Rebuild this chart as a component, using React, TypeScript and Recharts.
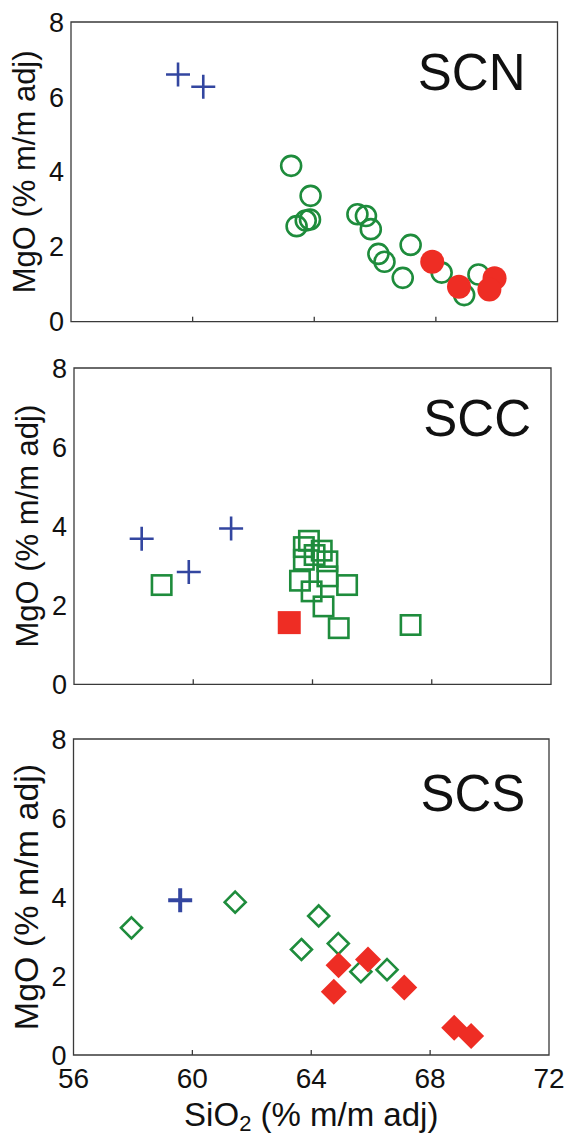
import React from 'react';
import { ScatterChart, Scatter, XAxis, YAxis, ReferenceArea } from 'recharts';

// Axis ticks shared by the three panels
const SI_TICKS = [56, 60, 64, 68, 72];
const MG_TICKS = [0, 2, 4, 6, 8];

// SCN panel: [SiO2, MgO]
const scnCross: [number, number][] = [[59.52, 6.6], [60.35, 6.27]];
const scnOpen: [number, number][] = [
  [63.24, 4.16], [63.88, 3.36], [63.42, 2.55], [63.72, 2.7], [63.86, 2.73],
  [65.42, 2.87], [65.7, 2.82], [65.86, 2.47], [66.11, 1.81], [66.31, 1.6],
  [66.91, 1.17], [67.17, 2.05], [68.19, 1.31], [68.93, 0.71], [69.4, 1.26],
];
const scnFilled: [number, number][] = [[67.88, 1.6], [68.76, 0.93], [69.93, 1.16], [69.76, 0.86]];

// SCC panel
const sccCross: [number, number][] = [[58.27, 3.68], [59.85, 2.84], [61.27, 3.94]];
const sccOpen: [number, number][] = [
  [58.94, 2.51], [63.71, 3.47], [63.88, 3.63], [64.31, 3.38], [64.5, 3.11],
  [63.71, 3.15], [64.07, 3.27], [63.58, 2.62], [64.5, 2.73], [63.97, 2.35],
  [65.16, 2.51], [64.37, 1.97], [64.88, 1.42], [67.29, 1.5],
];
const sccFilled: [number, number][] = [[63.22, 1.56]];

// SCS panel
const scsCross: [number, number][] = [[59.59, 3.92]];
const scsOpen: [number, number][] = [
  [57.95, 3.22], [61.44, 3.87], [64.25, 3.52], [63.67, 2.67], [64.91, 2.82],
  [65.67, 2.11], [66.55, 2.16],
];
const scsFilled: [number, number][] = [
  [64.92, 2.27], [65.91, 2.42], [64.76, 1.6], [67.13, 1.71], [68.81, 0.69], [69.38, 0.48],
];

const toPoints = (arr: [number, number][]) => arr.map(([si, mg]) => ({ si, mg }));

const BLUE = '#3346a0';
const GREEN = '#1e8c3c';
const RED = '#ee2d24';
const FRAME = '#3a3a3a';
const INK = '#111';
const FONT = '"Liberation Sans", Arial, Helvetica, sans-serif';

// ---- marker shapes ----
const plus = (half: number, sw: number) => (p: any) => (
  <path
    d={`M${p.cx - half},${p.cy}H${p.cx + half}M${p.cx},${p.cy - half}V${p.cy + half}`}
    stroke={BLUE}
    strokeWidth={sw}
    fill="none"
  />
);
const openCircle = (p: any) => (
  <circle cx={p.cx} cy={p.cy} r={10} fill="none" stroke={GREEN} strokeWidth={2.6} />
);
const filledCircle = (p: any) => <circle cx={p.cx} cy={p.cy} r={12} fill={RED} />;
const openSquare = (p: any) => (
  <rect x={p.cx - 9.7} y={p.cy - 9.7} width={19.4} height={19.4} fill="none" stroke={GREEN} strokeWidth={2.6} />
);
const filledSquare = (p: any) => (
  <rect x={p.cx - 11.5} y={p.cy - 11.5} width={23} height={23} fill={RED} />
);
const diamondPath = (cx: number, cy: number, h: number) =>
  `M${cx},${cy - h}L${cx + h},${cy}L${cx},${cy + h}L${cx - h},${cy}Z`;
const openDiamond = (p: any) => (
  <path d={diamondPath(p.cx, p.cy, 10.5)} fill="none" stroke={GREEN} strokeWidth={2.6} />
);
const filledDiamond = (p: any) => <path d={diamondPath(p.cx, p.cy, 13)} fill={RED} />;

// ---- axis pieces ----
const makeXTick = (showLabel: boolean) => (p: any) => {
  const inner = p.index > 0 && p.index < SI_TICKS.length - 1;
  return (
    <g>
      {inner && <line x1={p.x} x2={p.x} y1={p.y} y2={p.y - 5} stroke={FRAME} strokeWidth={1.3} />}
      {showLabel && (
        <text x={p.x} y={p.y + 13} dy="0.71em" textAnchor="middle" fontSize={28} fontFamily={FONT} fill={INK}>
          {p.payload.value}
        </text>
      )}
    </g>
  );
};

const makeYTitle = (size: number) => (p: any) => {
  const vb = p.viewBox;
  const x = vb.x + vb.width - 36;
  const y = vb.y + vb.height / 2;
  return (
    <text
      x={x}
      y={y}
      transform={`rotate(-90 ${x} ${y})`}
      textAnchor="middle"
      fontSize={size}
      fontFamily={FONT}
      fill={INK}
    >
      MgO (% m/m adj)
    </text>
  );
};

const xTitle = (p: any) => {
  const vb = p.viewBox;
  return (
    <text x={vb.x + vb.width / 2} y={vb.y + 71} textAnchor="middle" fontSize={33} fontFamily={FONT} fill={INK}>
      SiO
      <tspan fontSize={22} dy={5}>2</tspan>
      <tspan dy={-5}> (% m/m adj)</tspan>
    </text>
  );
};

const makeName = (name: string, inset: number, baseline: number) => (p: any) => {
  const vb = p.viewBox;
  return (
    <text
      x={vb.x + vb.width - inset}
      y={vb.y + baseline}
      textAnchor="end"
      fontSize={51}
      fontFamily={FONT}
      fill={INK}
    >
      {name}
    </text>
  );
};

type PanelProps = {
  top: number;
  height: number;
  plotTop: number;
  plotLeft: number;
  right: number;
  xAxisHeight: number;
  name: string;
  nameInset: number;
  nameBaseline: number;
  xLabels: boolean;
  yTitleSize: number;
  cross: [number, number][];
  open: [number, number][];
  filled: [number, number][];
  crossShape: any;
  openShape: any;
  filledShape: any;
};

function Panel(props: PanelProps) {
  return (
    <div style={{ position: 'absolute', left: 0, top: props.top }}>
      <ScatterChart
        width={566}
        height={props.height}
        margin={{ top: props.plotTop, right: props.right, bottom: 0, left: 0 }}
      >
        <XAxis
          type="number"
          dataKey="si"
          domain={[56, 72]}
          ticks={SI_TICKS}
          interval={0}
          allowDataOverflow
          axisLine={false}
          tickLine={false}
          tickSize={0}
          tickMargin={0}
          height={props.xAxisHeight}
          tick={makeXTick(props.xLabels)}
          label={props.xLabels ? xTitle : undefined}
        />
        <YAxis
          type="number"
          dataKey="mg"
          domain={[0, 8]}
          ticks={MG_TICKS}
          interval={0}
          allowDataOverflow
          axisLine={false}
          tickLine={false}
          tickSize={0}
          tickMargin={7}
          width={props.plotLeft}
          tick={{ fontSize: 27, fontFamily: FONT, fill: INK }}
          label={makeYTitle(props.yTitleSize)}
        />
        <ReferenceArea
          x1={56}
          x2={72}
          y1={0}
          y2={8}
          fill="none"
          fillOpacity={0}
          stroke={FRAME}
          strokeWidth={1.3}
          label={makeName(props.name, props.nameInset, props.nameBaseline)}
        />
        <Scatter data={toPoints(props.open)} shape={props.openShape} isAnimationActive={false} />
        <Scatter data={toPoints(props.filled)} shape={props.filledShape} isAnimationActive={false} />
        <Scatter data={toPoints(props.cross)} shape={props.crossShape} isAnimationActive={false} />
      </ScatterChart>
    </div>
  );
}

export default function App() {
  return (
    <div style={{ position: 'absolute', left: 0, top: 0, width: 566, height: 1137, background: '#fff' }}>
      <Panel
        top={0}
        height={345}
        plotTop={22}
        plotLeft={71}
        right={8.5}
        xAxisHeight={23.3}
        name="SCN"
        nameInset={32}
        nameBaseline={68}
        xLabels={false}
        yTitleSize={31}
        cross={scnCross}
        open={scnOpen}
        filled={scnFilled}
        crossShape={plus(12, 2.6)}
        openShape={openCircle}
        filledShape={filledCircle}
      />
      <Panel
        top={345}
        height={355}
        plotTop={23}
        plotLeft={74}
        right={15}
        xAxisHeight={15.7}
        name="SCC"
        nameInset={20}
        nameBaseline={68}
        xLabels={false}
        yTitleSize={31}
        cross={sccCross}
        open={sccOpen}
        filled={sccFilled}
        crossShape={plus(12, 2.6)}
        openShape={openSquare}
        filledShape={filledSquare}
      />
      <Panel
        top={700}
        height={437}
        plotTop={39}
        plotLeft={73.5}
        right={17}
        xAxisHeight={82}
        name="SCS"
        nameInset={23.6}
        nameBaseline={71.5}
        xLabels={true}
        yTitleSize={34}
        cross={scsCross}
        open={scsOpen}
        filled={scsFilled}
        crossShape={plus(12, 4)}
        openShape={openDiamond}
        filledShape={filledDiamond}
      />
    </div>
  );
}
